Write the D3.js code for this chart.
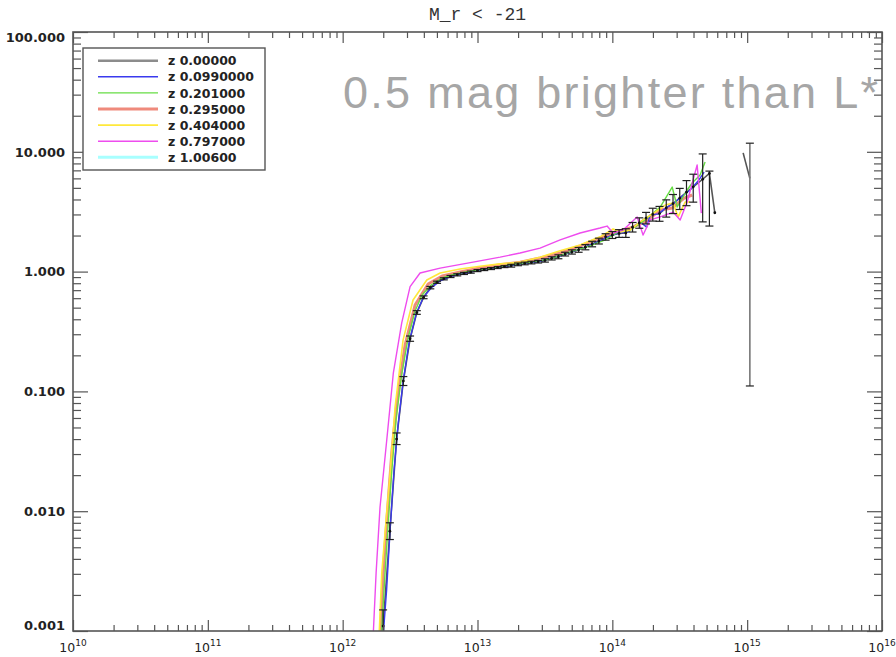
<!DOCTYPE html>
<html>
<head>
<meta charset="utf-8">
<script src="https://cdn.jsdelivr.net/npm/d3@7"></script>
<style>
  html, body { margin: 0; padding: 0; background: #fff; }
  svg { display: block; }
</style>
</head>
<body>
<script>
// ---- axis ticks and labels ----
const massDecades = [1e10, 1e11, 1e12, 1e13, 1e14, 1e15, 1e16];
const massExponents = ["10", "11", "12", "13", "14", "15", "16"];
const ratioTicks = [0.001, 0.01, 0.1, 1, 10, 100];
const ratioTickLabels = ["0.001", "0.010", "0.100", "1.000", "10.000", "100.000"];
const plotTitle = "M_r < -21";
const noteText = "0.5 mag brighter than L*";

// ---- legend ----
const legendLabels = ["z 0.00000", "z 0.0990000", "z 0.201000", "z 0.295000",
                      "z 0.404000", "z 0.797000", "z 1.00600"];

// ---- z = 0.000 : measured points with error bars (log10 halo mass) ----
const logM_z0 = [12.30, 12.35, 12.40, 12.45, 12.50, 12.55, 12.60, 12.65, 12.70, 12.75,
                 12.80, 12.85, 12.90, 12.95, 13.00, 13.05, 13.10, 13.15, 13.20, 13.25,
                 13.30, 13.35, 13.40, 13.45, 13.50, 13.55, 13.60, 13.65, 13.70, 13.75,
                 13.80, 13.85, 13.90, 13.95, 14.00, 14.05, 14.10, 14.15, 14.20, 14.25,
                 14.30, 14.35, 14.40, 14.45, 14.50, 14.55, 14.60, 14.67, 14.72, 14.76];
const ratio_z0 = [0.0011, 0.0068, 0.040, 0.122, 0.275, 0.455, 0.610, 0.735, 0.815, 0.870,
                  0.910, 0.940, 0.965, 0.990, 1.02, 1.04, 1.06, 1.08, 1.10, 1.12,
                  1.15, 1.17, 1.19, 1.21, 1.24, 1.29, 1.33, 1.40, 1.46, 1.52,
                  1.60, 1.70, 1.80, 1.95, 2.02, 2.08, 2.10, 2.35, 2.55, 2.80,
                  3.00, 3.05, 3.40, 3.70, 4.10, 4.60, 5.10, 5.90, 6.60, 3.10];
const errLo_z0 = [0.0008, 0.0058, 0.036, 0.112, 0.262, 0.440, 0.594, 0.718, 0.798, 0.853,
                  0.892, 0.921, 0.946, 0.970, 1.00, 1.02, 1.04, 1.06, 1.08, 1.09,
                  1.12, 1.14, 1.16, 1.18, 1.20, 1.25, 1.28, 1.35, 1.40, 1.45,
                  1.52, 1.61, 1.70, 1.83, 1.89, 1.93, 1.93, 2.14, 2.30, 2.50,
                  2.64, 2.63, 2.85, 3.05, 3.30, 3.55, 3.80, 2.60, 2.40, 3.10];
const errHi_z0 = [0.0015, 0.0080, 0.045, 0.133, 0.290, 0.472, 0.627, 0.752, 0.832, 0.888,
                  0.928, 0.959, 0.985, 1.010, 1.04, 1.06, 1.08, 1.10, 1.12, 1.15,
                  1.18, 1.20, 1.22, 1.24, 1.28, 1.33, 1.38, 1.45, 1.52, 1.59,
                  1.68, 1.79, 1.90, 2.07, 2.16, 2.24, 2.28, 2.57, 2.81, 3.12,
                  3.38, 3.50, 3.97, 4.40, 4.95, 5.75, 6.50, 9.60, 6.90, 3.10];
// isolated highest-mass bin
const logM_z0_tail = [14.97, 15.02];
const ratio_z0_tail = [9.8, 6.0];
const errLo_z0_tail = [9.8, 0.111];
const errHi_z0_tail = [9.8, 11.8];

// ---- model curves at higher redshift ----
const logM_z0099 = [12.303, 12.326, 12.352, 12.381, 12.411, 12.448, 12.493, 12.545, 12.596, 12.656,
                    12.723, 12.812, 12.908, 13.019, 13.168, 13.316, 13.464, 13.613, 13.761, 13.872,
                    13.969, 14.043, 14.117, 14.206, 14.255, 14.280, 14.340, 14.399, 14.458, 14.518,
                    14.577, 14.636, 14.681];
const ratio_z0099 = [0.001, 0.0022, 0.0070, 0.0221, 0.0525, 0.120, 0.258, 0.443, 0.603, 0.730,
                     0.836, 0.919, 0.973, 1.03, 1.09, 1.16, 1.22, 1.35, 1.55, 1.73,
                     1.95, 2.10, 2.14, 2.60, 2.35, 2.97, 3.03, 3.40, 3.74, 4.28,
                     4.80, 5.70, 6.78];

const logM_z0201 = [12.289, 12.311, 12.337, 12.366, 12.396, 12.437, 12.485, 12.537, 12.589, 12.656,
                    12.738, 12.834, 12.945, 13.093, 13.242, 13.390, 13.539, 13.687, 13.835, 13.947,
                    14.043, 14.132, 14.243, 14.355, 14.444, 14.481, 14.555, 14.592, 14.651, 14.688];
const ratio_z0201 = [0.001, 0.00267, 0.00767, 0.0230, 0.0577, 0.137, 0.279, 0.469, 0.638, 0.773,
                     0.885, 0.955, 1.01, 1.07, 1.14, 1.20, 1.27, 1.46, 1.64, 1.84,
                     2.14, 2.22, 2.70, 3.46, 5.08, 3.46, 4.80, 5.49, 6.40, 8.22];

const logM_z0295 = [12.281, 12.300, 12.333, 12.366, 12.404, 12.463, 12.537, 12.634, 12.738, 12.871,
                    13.019, 13.168, 13.316, 13.464, 13.613, 13.761, 13.909, 14.021, 14.132, 14.243,
                    14.355, 14.444, 14.533, 14.592];
const ratio_z0295 = [0.001, 0.00305, 0.0102, 0.0324, 0.0848, 0.244, 0.526, 0.787, 0.919, 0.993,
                     1.07, 1.14, 1.20, 1.30, 1.43, 1.64, 1.91, 2.14, 2.31, 2.60,
                     3.27, 3.40, 4.11, 4.36];

const logM_z0404 = [12.272, 12.290, 12.322, 12.352, 12.389, 12.448, 12.522, 12.624, 12.723, 12.871,
                    13.019, 13.168, 13.316, 13.464, 13.613, 13.761, 13.909, 14.006, 14.058, 14.132,
                    14.206, 14.318, 14.392, 14.451, 14.488, 14.540, 14.577];
const ratio_z0404 = [0.001, 0.00305, 0.00845, 0.0208, 0.0741, 0.268, 0.579, 0.851, 0.973, 1.05,
                     1.11, 1.16, 1.20, 1.32, 1.49, 1.67, 1.95, 2.27, 2.14, 2.22,
                     2.60, 3.14, 3.59, 3.74, 2.86, 3.81, 3.81];

const logM_z0797 = [12.228, 12.248, 12.277, 12.327, 12.376, 12.438, 12.500, 12.574, 12.723, 12.967,
                    13.168, 13.316, 13.464, 13.613, 13.761, 13.909, 13.961, 14.006, 14.080, 14.184,
                    14.228, 14.280, 14.355, 14.451, 14.503, 14.555, 14.629, 14.660];
const ratio_z0797 = [0.001, 0.00305, 0.0108, 0.0393, 0.143, 0.373, 0.748, 0.973, 1.07, 1.20,
                     1.32, 1.43, 1.57, 1.84, 2.10, 2.31, 2.40, 2.10, 2.22, 2.86,
                     2.02, 2.70, 2.86, 3.14, 2.70, 3.81, 7.76, 3.08];

const logM_z1006 = [];
const ratio_z1006 = [];

// ---- styles per redshift (same order as legend) ----
const seriesColors = ["#8c8c8c", "#3a3aee", "#66dd44", "#ef8a7c", "#ffe83a", "#ee4cee", "#a8ffff"];
const seriesWidths = [2.6, 1.4, 1.4, 3.0, 1.6, 1.4, 3.0];

// ---------------------------------------------------------------
const W = 896, H = 657;
const X0 = 73, X1 = 882, Y0 = 32, Y1 = 631;

const svg = d3.select("body").append("svg")
  .attr("width", W).attr("height", H)
  .style("font-family", "'DejaVu Sans', sans-serif");

const x = d3.scaleLog().domain([1e10, 1e16]).range([X0, X1]);
const y = d3.scaleLog().domain([1e-3, 1e2]).range([Y1, Y0]);

svg.append("defs").append("clipPath").attr("id", "plotClip")
  .append("rect").attr("x", X0).attr("y", Y0).attr("width", X1 - X0).attr("height", Y1 - Y0);

function pairs(logM, ratio) {
  return logM.map((m, i) => ({ m: Math.pow(10, m), v: ratio[i] }));
}

const line = d3.line().x(d => x(d.m)).y(d => y(d.v));

const plot = svg.append("g").attr("clip-path", "url(#plotClip)");

// z = 0 reference curve (gray) with its isolated last bin
const z0 = pairs(logM_z0, ratio_z0);
const z0tail = pairs(logM_z0_tail, ratio_z0_tail);
plot.append("path").datum(z0).attr("d", line)
  .attr("fill", "none").attr("stroke", "#555").attr("stroke-width", 1.6);
plot.append("path").datum(z0tail).attr("d", line)
  .attr("fill", "none").attr("stroke", "#555").attr("stroke-width", 1.6);

// higher-redshift curves
const curves = [
  { i: 1, d: pairs(logM_z0099, ratio_z0099) },
  { i: 2, d: pairs(logM_z0201, ratio_z0201) },
  { i: 3, d: pairs(logM_z0295, ratio_z0295) },
  { i: 4, d: pairs(logM_z0404, ratio_z0404) },
  { i: 5, d: pairs(logM_z0797, ratio_z0797) },
  { i: 6, d: pairs(logM_z1006, ratio_z1006) }
];
// salmon (thick) first so the thinner lines stay visible on top of it
const drawOrder = [3, 6, 1, 2, 4, 5];
drawOrder.forEach(k => {
  const c = curves.find(s => s.i === k);
  if (!c.d.length) return;
  plot.append("path").datum(c.d).attr("d", line)
    .attr("fill", "none")
    .attr("stroke", seriesColors[k])
    .attr("stroke-width", seriesWidths[k])
    .attr("stroke-linejoin", "round");
});

// error bars for z = 0
const bars = logM_z0.map((m, i) => ({ m: Math.pow(10, m), v: ratio_z0[i], lo: errLo_z0[i], hi: errHi_z0[i] }))
  .concat(logM_z0_tail.map((m, i) => ({ m: Math.pow(10, m), v: ratio_z0_tail[i], lo: errLo_z0_tail[i], hi: errHi_z0_tail[i] })));
const eb = plot.append("g").attr("stroke", "#222").attr("stroke-width", 1.2);
bars.filter(b => b.hi > b.lo).forEach(b => {
  const cx = x(b.m);
  eb.append("line").attr("x1", cx).attr("x2", cx).attr("y1", y(b.lo)).attr("y2", y(b.hi))
    .attr("stroke", b.hi / b.lo > 20 ? "#777" : "#222").attr("stroke-width", b.hi / b.lo > 20 ? 1.6 : 1.2);
  eb.append("line").attr("x1", cx - 4).attr("x2", cx + 4).attr("y1", y(b.lo)).attr("y2", y(b.lo));
  eb.append("line").attr("x1", cx - 4).attr("x2", cx + 4).attr("y1", y(b.hi)).attr("y2", y(b.hi));
});
plot.append("g").selectAll("circle").data(z0).join("circle")
  .attr("cx", d => x(d.m)).attr("cy", d => y(d.v)).attr("r", 1.4).attr("fill", "#111");

// ---- axes ----
const minorMass = [];
massDecades.slice(0, -1).forEach(d => { for (let k = 2; k <= 9; k++) minorMass.push(d * k); });
const minorRatio = [];
ratioTicks.slice(0, -1).forEach(d => { for (let k = 2; k <= 9; k++) minorRatio.push(d * k); });

const axisColor = "#555";
function styleAxis(g) {
  g.select(".domain").remove();
  g.selectAll("line").attr("stroke", axisColor).attr("stroke-width", 1.2);
  g.selectAll("text").remove();
}
svg.append("g").attr("transform", `translate(0,${Y1})`)
  .call(d3.axisBottom(x).tickValues(massDecades).tickSize(-11).tickFormat("")).call(styleAxis);
svg.append("g").attr("transform", `translate(0,${Y1})`)
  .call(d3.axisBottom(x).tickValues(minorMass).tickSize(-6).tickFormat("")).call(styleAxis);
svg.append("g").attr("transform", `translate(0,${Y0})`)
  .call(d3.axisTop(x).tickValues(massDecades).tickSize(-11).tickFormat("")).call(styleAxis);
svg.append("g").attr("transform", `translate(0,${Y0})`)
  .call(d3.axisTop(x).tickValues(minorMass).tickSize(-6).tickFormat("")).call(styleAxis);
svg.append("g").attr("transform", `translate(${X0},0)`)
  .call(d3.axisLeft(y).tickValues(ratioTicks).tickSize(-15).tickFormat("")).call(styleAxis);
svg.append("g").attr("transform", `translate(${X0},0)`)
  .call(d3.axisLeft(y).tickValues(minorRatio).tickSize(-8).tickFormat("")).call(styleAxis);
svg.append("g").attr("transform", `translate(${X1},0)`)
  .call(d3.axisRight(y).tickValues(ratioTicks).tickSize(-15).tickFormat("")).call(styleAxis);
svg.append("g").attr("transform", `translate(${X1},0)`)
  .call(d3.axisRight(y).tickValues(minorRatio).tickSize(-8).tickFormat("")).call(styleAxis);

svg.append("rect").attr("x", X0).attr("y", Y0).attr("width", X1 - X0).attr("height", Y1 - Y0)
  .attr("fill", "none").attr("stroke", axisColor).attr("stroke-width", 1.6);

// x tick labels: 10^n
const xl = svg.append("g").attr("fill", "#222").attr("font-size", 12.5);
massDecades.forEach((d, i) => {
  const t = xl.append("text").attr("x", x(d)).attr("y", 652).attr("text-anchor", "middle");
  t.append("tspan").text("10");
  t.append("tspan").attr("dy", -6).attr("font-size", 9).text(massExponents[i]);
});

// y tick labels
const yl = svg.append("g").attr("fill", "#222").attr("font-size", 13).attr("font-weight", "bold")
  .attr("text-anchor", "end");
ratioTicks.forEach((v, i) => {
  let shift = 0;
  if (i === 0) shift = -5.5;
  if (i === ratioTicks.length - 1) shift = 5.5;
  yl.append("text").attr("x", 65).attr("y", y(v) + shift + 4.7).text(ratioTickLabels[i]);
});

// title
svg.append("text").attr("x", (X0 + X1) / 2).attr("y", 20).attr("text-anchor", "middle")
  .attr("font-family", "'Liberation Mono', monospace").attr("font-size", 18).attr("fill", "#333")
  .text(plotTitle);

// legend
const lg = svg.append("g");
lg.append("rect").attr("x", 83).attr("y", 48).attr("width", 182).attr("height", 122)
  .attr("fill", "#fff").attr("stroke", axisColor).attr("stroke-width", 1.4);
legendLabels.forEach((lab, i) => {
  const ry = 60.7 + i * 16.1;
  lg.append("line").attr("x1", 98).attr("x2", 158).attr("y1", ry).attr("y2", ry)
    .attr("stroke", seriesColors[i]).attr("stroke-width", seriesWidths[i]);
  lg.append("text").attr("x", 168).attr("y", ry + 4.6).attr("font-size", 12.5)
    .attr("font-weight", "bold").attr("fill", "#222").text(lab);
});

// annotation
svg.append("text").attr("x", 343).attr("y", 108)
  .attr("font-family", "'Liberation Sans', Arial, sans-serif").attr("font-size", 45)
  .attr("fill", "#a6a6a6").attr("textLength", 535).attr("lengthAdjust", "spacing")
  .text(noteText);
</script>
</body>
</html>
